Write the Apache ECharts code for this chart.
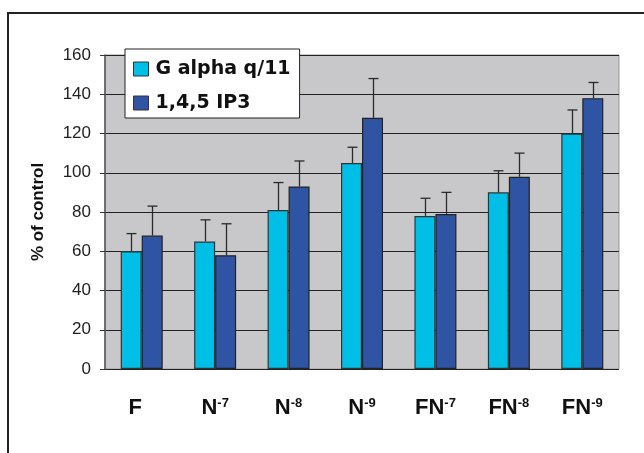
<!DOCTYPE html>
<html>
<head>
<meta charset="utf-8">
<script src="https://cdn.jsdelivr.net/npm/echarts@6/dist/echarts.min.js"></script>
<style>
html,body{margin:0;padding:0;background:#fff;}
#c{width:644px;height:453px;}
</style>
</head>
<body>
<div id="c"></div>
<script>
var categories = ['F', 'N-7', 'N-8', 'N-9', 'FN-7', 'FN-8', 'FN-9'];
var gAlphaValues = [60, 65, 81, 105, 78, 90, 120];
var gAlphaErrors = [9, 11, 14, 8, 9, 11, 12];
var ip3Values = [68, 58, 93, 128, 79, 98, 138];
var ip3Errors = [15, 16, 13, 20, 11, 12, 8];
var yTicks = [0, 20, 40, 60, 80, 100, 120, 140, 160];

var BAR_W = 21;

function errSeries(name, vals, errs, offset) {
  var data = vals.map(function (v, i) { return [i, v, v + errs[i]]; });
  return {
    type: 'custom',
    name: name + ' err',
    z: 5,
    silent: true,
    data: data,
    renderItem: function (params, api) {
      var base = api.coord([api.value(0), api.value(1)]);
      var top = api.coord([api.value(0), api.value(2)]);
      var x = Math.round(base[0] + offset) + 0.5;
      return {
        type: 'group',
        children: [
          { type: 'line', shape: { x1: x, y1: base[1], x2: x, y2: top[1] }, style: { stroke: '#2a2a2a', lineWidth: 1.3 } },
          { type: 'line', shape: { x1: x - 5, y1: top[1], x2: x + 5, y2: top[1] }, style: { stroke: '#2a2a2a', lineWidth: 1.3 } }
        ]
      };
    }
  };
}

function labelFor(c) {
  var parts = c.split('-');
  if (parts.length === 1) return '{f|' + c + '}';
  return '{b|' + parts[0] + '}{s|-' + parts[1] + '}';
}

var FONT = 'Liberation Sans, Arial';
var chart = echarts.init(document.getElementById('c'));
chart.setOption({
  animation: false,
  graphic: [
    { type: 'rect', z: -10, shape: { x: 8, y: 13, width: 700, height: 500 }, style: { fill: '#fff', stroke: '#222', lineWidth: 2 } }
  ],
  grid: { left: 105, right: 25, top: 55, bottom: 84, backgroundColor: '#c8c8ca', show: true, borderColor: '#999', borderWidth: 1 },
  legend: {
    left: 125, top: 49,
    orient: 'vertical',
    backgroundColor: '#fff', borderColor: '#222', borderWidth: 1,
    padding: [9, 9, 4, 8],
    itemGap: 12,
    itemWidth: 15, itemHeight: 14,
    data: [
      { name: 'G alpha q/11', icon: 'rect', itemStyle: { borderColor: '#333', borderWidth: 1 } },
      { name: '1,4,5 IP3', icon: 'rect', itemStyle: { borderColor: '#333', borderWidth: 1 } }
    ],
    textStyle: { fontFamily: 'DejaVu Sans', fontWeight: 'bold', fontSize: 19, lineHeight: 22, color: '#111', padding: [0, 0, 0, 2] }
  },
  xAxis: {
    type: 'category',
    data: categories,
    axisLine: { show: false },
    axisTick: { show: false },
    axisLabel: {
      interval: 0,
      margin: 28,
      formatter: function (v) { return labelFor(v); },
      rich: {
        f: { fontFamily: FONT, fontWeight: 'bold', fontSize: 22, color: '#111', verticalAlign: 'bottom', lineHeight: 22, padding: [0, 13, 0, 0] },
        b: { fontFamily: FONT, fontWeight: 'bold', fontSize: 22, color: '#111', verticalAlign: 'bottom', lineHeight: 22 },
        s: { fontFamily: FONT, fontWeight: 'bold', fontSize: 13, color: '#111', verticalAlign: 'top', lineHeight: 22, padding: [0, 0, 11, 0] }
      }
    }
  },
  yAxis: {
    type: 'value',
    min: 0, max: 160, interval: 20,
    name: '% of control',
    nameLocation: 'middle',
    nameGap: 58,
    nameTextStyle: { fontFamily: FONT, fontWeight: 'bold', fontSize: 17, color: '#111' },
    axisLine: { show: true, lineStyle: { color: '#555', width: 1.5 } },
    axisTick: { show: true, length: 5, lineStyle: { color: '#333' } },
    axisLabel: { margin: 14, fontFamily: FONT, fontSize: 17, color: '#222',
      formatter: function (v) { return yTicks.indexOf(v) >= 0 ? String(v) : ''; } },
    splitLine: { show: true, lineStyle: { color: '#222', width: 1 } }
  },
  series: [
    {
      name: 'G alpha q/11', type: 'bar', data: gAlphaValues, barWidth: BAR_W, barGap: '0%',
      itemStyle: { color: '#00bfe7', borderColor: '#333', borderWidth: 1.2 }, z: 3
    },
    {
      name: '1,4,5 IP3', type: 'bar', data: ip3Values, barWidth: BAR_W, barGap: '0%',
      itemStyle: { color: '#2f54a4', borderColor: '#222', borderWidth: 1.2 }, z: 3
    },
    errSeries('G alpha q/11', gAlphaValues, gAlphaErrors, -BAR_W / 2),
    errSeries('1,4,5 IP3', ip3Values, ip3Errors, BAR_W / 2)
  ]
});
</script>
</body>
</html>
